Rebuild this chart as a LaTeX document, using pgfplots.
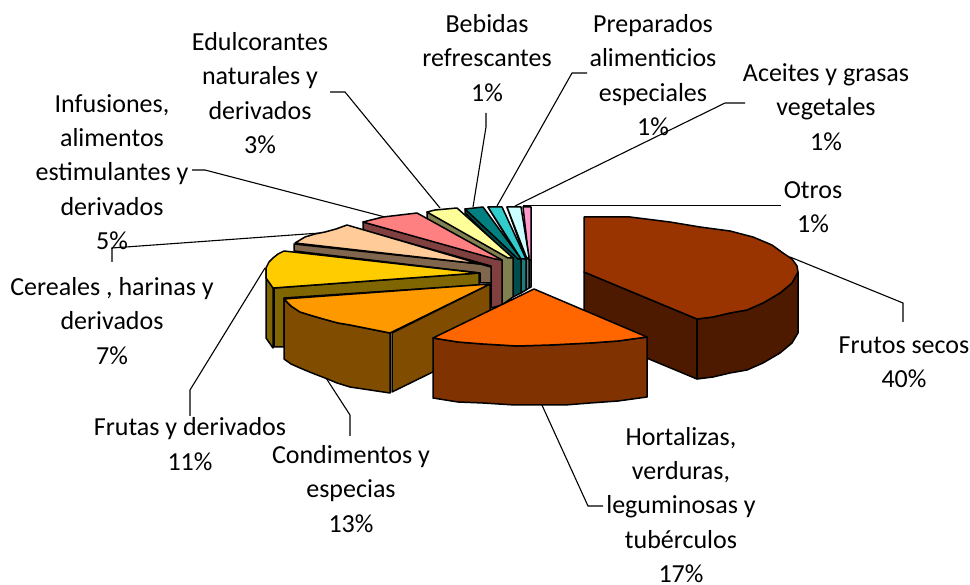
\documentclass[border=0pt]{standalone}
\usepackage{fontspec}
\setmainfont{Carlito}
\usepackage{pgfplots}
\pgfplotsset{compat=1.18}

\definecolor{otrosT}{HTML}{FF99CC}\definecolor{otrosS}{HTML}{804D66}
\definecolor{aceiT}{HTML}{CCFFFF}\definecolor{aceiS}{HTML}{668080}
\definecolor{prepT}{HTML}{33CCCC}\definecolor{prepS}{HTML}{1F7A7A}
\definecolor{bebT}{HTML}{008080}\definecolor{bebS}{HTML}{004D4D}
\definecolor{eduT}{HTML}{FFFF99}\definecolor{eduS}{HTML}{808050}
\definecolor{infT}{HTML}{FF8080}\definecolor{infS}{HTML}{804040}
\definecolor{cerT}{HTML}{FFCC99}\definecolor{cerS}{HTML}{80664D}
\definecolor{fruT}{HTML}{FFCC00}\definecolor{fruS}{HTML}{806600}
\definecolor{secT}{HTML}{993300}\definecolor{secS}{HTML}{4D1A00}
\definecolor{conT}{HTML}{FF9900}\definecolor{conS}{HTML}{804D00}
\definecolor{horT}{HTML}{FF6600}\definecolor{horS}{HTML}{803300}

% every slice piece is a closed polygon in picture pixels
\tikzset{
  face/.style={fill=#1,draw=black,line width=1.5pt,line join=round},
  leader/.style={draw=black,line width=1.1pt,line join=miter},
  lab/.style={align=center,inner sep=0pt,font=\fontsize{26}{34.3}\selectfont},
}

\begin{document}
\begin{tikzpicture}
\begin{axis}[
  scale only axis,width=970pt,height=585pt,
  xmin=0,xmax=970,ymin=0,ymax=585,y dir=reverse,
  hide axis,clip=false,no markers,
]
\path (axis cs:0,0) rectangle (axis cs:970,585);
% leader lines
\addplot[leader] coordinates {(790,257) (903,303) (903,322)};
\addplot[leader] coordinates {(541,403) (588,506) (603,506)};
\addplot[leader] coordinates {(326,378) (350,415) (350,436)};
\addplot[leader] coordinates {(265,268) (190,390) (190,416)};
\addplot[leader] coordinates {(320,233) (112,248) (112,262)};
\addplot[leader] coordinates {(385,217) (205,170) (192,170)};
\addplot[leader] coordinates {(440,208) (345,92) (330,92)};
\addplot[leader] coordinates {(473,207) (486,127) (486,113)};
\addplot[leader] coordinates {(497,206) (572,73) (587,73)};
\addplot[leader] coordinates {(515,206) (725,103) (745,103)};
\addplot[leader] coordinates {(523,205.5) (781,205.5)};

% Otros
\addplot[face=otrosS] coordinates {(529,260) (531,260) (531,287) (529,288)} -- cycle;
\addplot[face=otrosT] coordinates {(523,207) (531,207) (531,260) (529,260)} -- cycle;
% Aceites y grasas
\addplot[face=aceiS] coordinates {(507,207) (526,260) (526,290) (529,288) (529,260)} -- cycle;
\addplot[face=aceiT] coordinates {(507,207) (521,207) (529,257) (527,259)} -- cycle;
% Preparados
\addplot[face=prepS] coordinates {(488,207) (520,259) (521,293) (526,290) (526,260)} -- cycle;
\addplot[face=prepT] coordinates {(488,207) (502,207) (526,259) (521,259)} -- cycle;
% Bebidas
\addplot[face=bebS] coordinates {(465,209) (465,213) (513,260) (513,297) (521,293) (521,260)} -- cycle;
\addplot[face=bebT] coordinates {(465,209) (483,207) (521,259) (518,259)} -- cycle;
% Edulcorantes
\addplot[face=eduS] coordinates {(427,212) (427,220) (502,263) (502,305) (513,297) (513,258)} -- cycle;
\addplot[face=eduT] coordinates {(427,212) (435,210) (446,209) (457,208) (513,258) (508,258)} -- cycle;
% Infusiones
\addplot[face=infS] coordinates {(363,222) (363,230) (491,266) (491,308) (502,305) (502,260)} -- cycle;
\addplot[face=infT] coordinates {(363,222) (383,217) (400,215) (417,213) (502,260) (495,259)} -- cycle;
% Cereales
\addplot[face=cerS] coordinates {(294,244) (294,251) (480,273) (480,283) (491,283) (491,267) (480,264)} -- cycle;
\addplot[face=cerT] coordinates {(295,243) (305,237) (315,234) (325,232) (336,229) (347,225) (480,264)} -- cycle;
% Frutas
\addplot[face=fruS] coordinates {(266,268) (266,338) (273,348) (273,288)} -- cycle;
\addplot[face=fruS] coordinates {(274,288) (479,273) (479,285) (284,298) (284,347) (274,347)} -- cycle;
\addplot[face=fruT] coordinates {(284,251) (278,254) (273,258) (269,262) (266,268) (266,278) (273,288) (479,273)} -- cycle;
% Frutos secos
\addplot[face=secS] coordinates {(584,272) (697,319) (697,379) (584,332)} -- cycle;
\addplot[face=secS] coordinates {(697,319) (713,317) (730,313) (747,310) (763,303) (780,293) (792,283) (798,272) (798,333) (792,343) (780,353) (763,363) (747,370) (730,373) (713,377) (697,379)} -- cycle;
\addplot[face=secT] coordinates {(584,217) (630,217) (670,222) (700,227) (730,231) (753,237) (772,245) (783,253) (792,259) (797,266) (798,272) (792,283) (780,293) (763,303) (747,310) (730,313) (713,317) (697,319) (584,272)} -- cycle;
% Condimentos
\addplot[face=conS] coordinates {(392,333) (490,284) (490,344) (392,392)} -- cycle;
\addplot[face=conS] coordinates {(284,299) (291,306) (300,312) (313,316) (327,320) (338,323) (350,325) (370,329) (390,333) (390,393) (370,390) (350,387) (337,383) (325,378) (312,373) (300,368) (291,364) (284,359)} -- cycle;
\addplot[face=conT] coordinates {(490,284) (284,299) (291,306) (300,312) (313,316) (327,320) (338,323) (350,325) (370,329) (390,333)} -- cycle;
% Hortalizas
\addplot[face=horS] coordinates {(433,338) (458,342) (483,344) (517,346) (550,345) (570,344) (590,343) (618,341) (647,337) (647,397) (618,401) (590,403) (565,405) (540,405) (515,405) (483,403) (458,402) (433,398)} -- cycle;
\addplot[face=horT] coordinates {(534,289) (433,338) (458,342) (483,344) (517,346) (550,345) (570,344) (590,343) (618,341) (647,337)} -- cycle;

% labels
\node[lab] at (axis cs:487,58) {Bebidas\\refrescantes\\1\%};
\node[lab] at (axis cs:653,75) {Preparados\\alimenticios\\especiales\\1\%};
\node[lab] at (axis cs:826,107) {Aceites y grasas\\vegetales\\1\%};
\node[lab] at (axis cs:813,207) {Otros\\1\%};
\node[lab] at (axis cs:904,362) {Frutos secos\\40\%};
\node[lab] at (axis cs:681,505) {Hortalizas,\\verduras,\\leguminosas y\\tubérculos\\17\%};
\node[lab] at (axis cs:351,489) {Condimentos y\\especias\\13\%};
\node[lab] at (axis cs:190,444) {Frutas y derivados\\11\%};
\node[lab] at (axis cs:112,321) {Cereales , harinas y\\derivados\\7\%};
\node[lab] at (axis cs:112,172) {Infusiones,\\alimentos\\estimulantes y\\derivados\\5\%};
\node[lab] at (axis cs:260,93) {Edulcorantes\\naturales y\\derivados\\3\%};
\end{axis}
\end{tikzpicture}
\end{document}
